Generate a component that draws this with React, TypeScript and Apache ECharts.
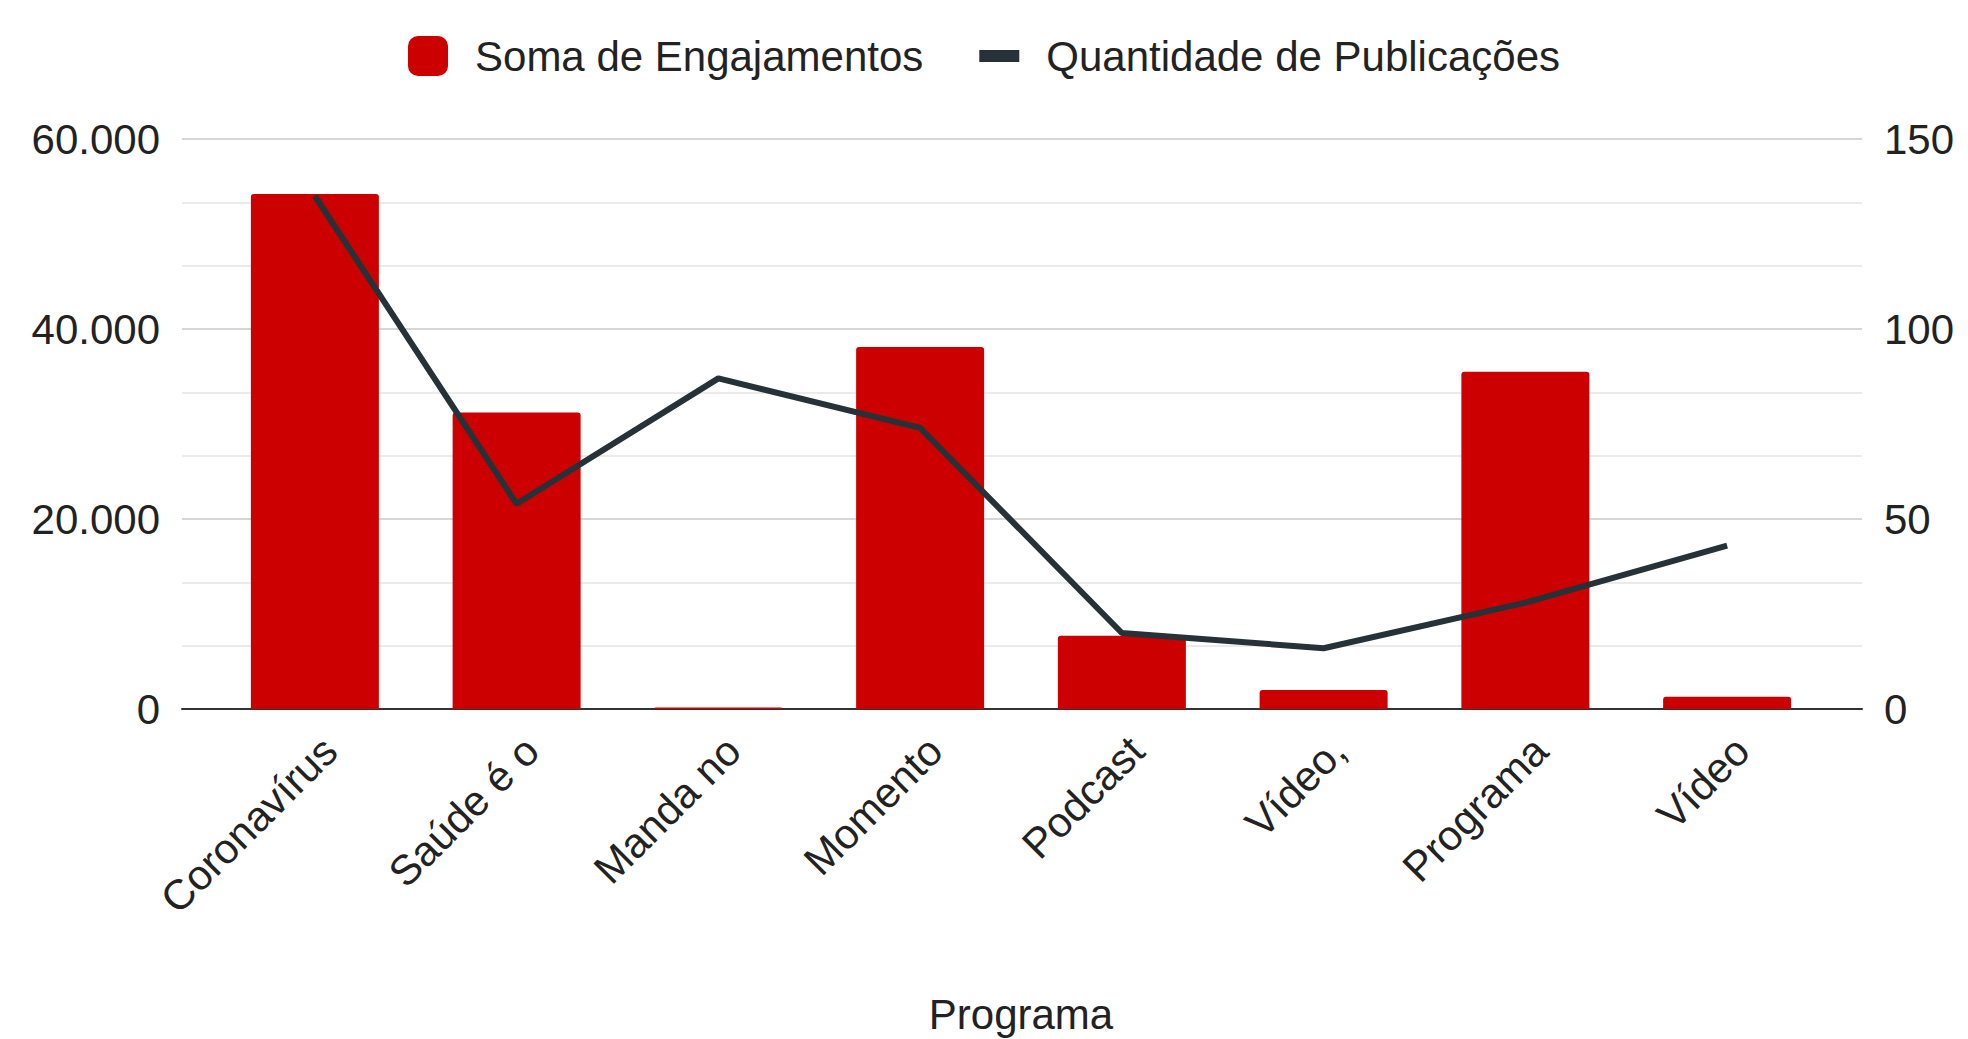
import React, { useEffect, useRef } from "react";
import * as echarts from "echarts";

const categories = ["Coronavírus", "Saúde é o", "Manda no", "Momento", "Podcast", "Vídeo,", "Programa", "Vídeo"];
const engajamentos = [54200, 31200, 150, 38100, 7700, 2000, 35500, 1300];
const publicacoes = [135, 54, 87, 74, 20, 16, 28, 43];
const leftTicks = { min: 0, max: 60000, interval: 20000 };
const rightTicks = { min: 0, max: 150, interval: 50 };

const FONT = "Liberation Sans, Arial, sans-serif";
const TXT = "#222222";
const FS = 42;

export default function App() {
  const ref = useRef<HTMLDivElement>(null);
  useEffect(() => {
    if (!ref.current) return;
    const chart = echarts.init(ref.current, undefined, { renderer: "svg" });
    const fmt = (v: number) => String(v).replace(/\B(?=(\d{3})+(?!\d))/g, ".");
    chart.setOption({
      animation: false,
      textStyle: { fontFamily: FONT },
      legend: {
        top: 30,
        left: "center",
        itemGap: 56,
        itemWidth: 40,
        itemHeight: 40,
        textStyle: { fontSize: FS, color: TXT, fontFamily: FONT, padding: [0, 0, 0, 22] },
        data: [
          { name: "Soma de Engajamentos", icon: "roundRect" },
          {
            name: "Quantidade de Publicações",
            icon: "path://M0,0 M40,40 M0,14 L40,14 L40,26 L0,26 Z",
            itemStyle: { color: "#263238" },
          },
        ],
      },
      grid: [
        { left: 182, right: 106, top: 139, bottom: 330, outerBoundsMode: "none", containLabel: false },
        { left: 214, right: 140, top: 139, bottom: 330, outerBoundsMode: "none", containLabel: false },
      ],
      xAxis: [
        {
          gridIndex: 0,
          type: "category",
          data: categories,
          axisLine: { show: true, lineStyle: { color: "#333333", width: 2 } },
          axisTick: { show: false },
          axisLabel: { show: false },
          splitLine: { show: false },
        },
        {
          gridIndex: 1,
          type: "category",
          data: categories,
          axisLine: { show: false },
          axisTick: { show: false },
          axisLabel: {
            rotate: 45,
            margin: 20,
            verticalAlign: "top",
            fontSize: FS,
            color: TXT,
            fontFamily: FONT,
          },
          name: "Programa",
          nameLocation: "middle",
          nameGap: 284,
          nameTextStyle: { fontSize: FS, color: TXT, fontFamily: FONT },
        },
      ],
      yAxis: [
        {
          gridIndex: 0,
          type: "value",
          position: "left",
          ...leftTicks,
          axisLine: { show: false },
          axisTick: { show: false },
          axisLabel: { formatter: fmt, fontSize: FS, color: TXT, margin: 22, fontFamily: FONT },
          splitLine: { lineStyle: { color: "#d6d6d6", width: 2 } },
          minorTick: { show: false, splitNumber: 3 },
          minorSplitLine: { show: true, lineStyle: { color: "#ebebeb", width: 2 } },
        },
        {
          gridIndex: 0,
          type: "value",
          position: "right",
          ...rightTicks,
          axisLine: { show: false },
          axisTick: { show: false },
          axisLabel: { fontSize: FS, color: TXT, margin: 22, fontFamily: FONT },
          splitLine: { show: false },
        },
        { gridIndex: 1, type: "value", show: false, ...leftTicks, splitLine: { show: false } },
        { gridIndex: 1, type: "value", show: false, ...rightTicks, splitLine: { show: false } },
      ],
      series: [
        {
          name: "Soma de Engajamentos",
          type: "bar",
          xAxisIndex: 1,
          yAxisIndex: 2,
          data: engajamentos,
          barWidth: 128,
          itemStyle: { color: "#cc0000", borderRadius: [3, 3, 0, 0] },
        },
        {
          name: "Quantidade de Publicações",
          type: "line",
          xAxisIndex: 1,
          yAxisIndex: 3,
          data: publicacoes,
          symbol: "none",
          lineStyle: { color: "#263238", width: 6 },
          itemStyle: { color: "#263238" },
          z: 5,
        },
      ],
    });
    return () => chart.dispose();
  }, []);
  return (
    <div
      ref={ref}
      style={{ position: "absolute", left: 0, top: 0, width: 1968, height: 1039 }}
    />
  );
}
